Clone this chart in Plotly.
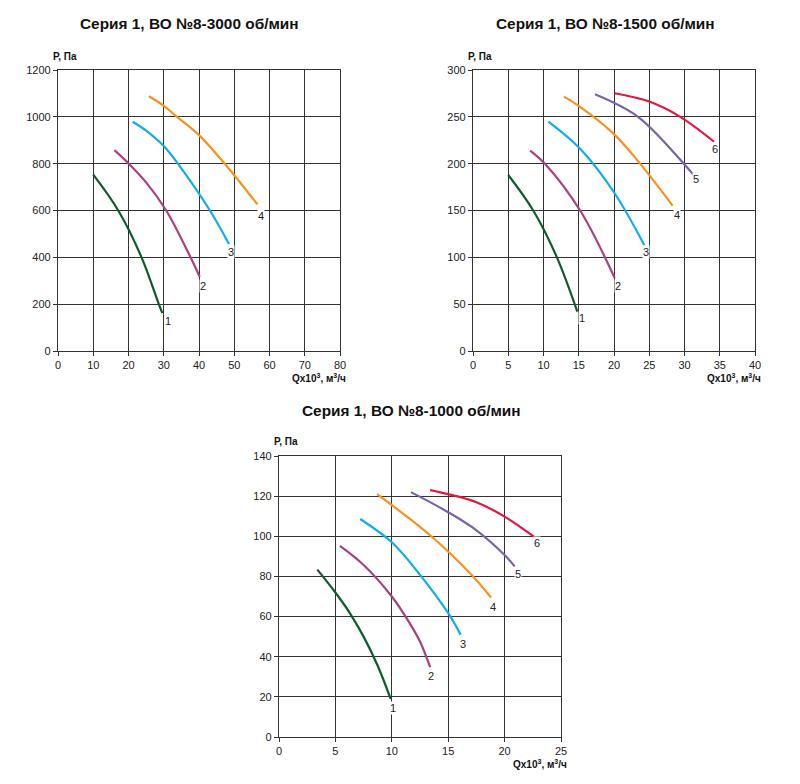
import plotly.graph_objects as go

# цвета кривых 1..6
colors = ["#0f5a2c", "#a8417f", "#12acea", "#f7921e", "#7a62aa", "#e3173e"]

# ВО №8 - 3000 об/мин
q3000 = [
    [10, 17.1, 23.7, 28.6, 29.6],
    [16, 20.1, 25, 30.7, 37.6, 40.2],
    [21.2, 25, 30, 34, 43.1, 48.5],
    [25.8, 30, 33.75, 40, 47.3, 56.6],
]
p3000 = [
    [753, 600, 400, 200, 162],
    [858, 800, 720, 600, 400, 317],
    [979, 941, 875, 800, 600, 457],
    [1088, 1047, 1000, 922, 800, 626],
]
lbl3000 = [(31.2, 130), (41.2, 278), (49, 421), (57.6, 578)]

# ВО №8 - 1500 об/мин
q1500 = [
    [5, 8.55, 11.9, 14.8],
    [8.1, 10.2, 15.2, 20.1],
    [10.7, 15.2, 20, 24.3],
    [12.9, 15.2, 20, 23.7, 28.3],
    [17.3, 23.4, 29.9, 31.4],
    [20.1, 25, 29.4, 34.2],
]
p1500 = [
    [188, 150, 100, 42],
    [214, 200, 150, 78],
    [245, 216, 169.5, 113],
    [271.6, 260.6, 231.5, 200, 155.3],
    [274, 250, 200, 187],
    [275.2, 266.3, 250, 223.4],
]
lbl1500 = [(15.5, 35), (20.6, 69), (24.5, 106), (28.9, 145), (31.7, 184), (34.3, 216)]

# ВО №8 - 1000 об/мин
q1000 = [
    [3.4, 5, 6.25, 7.5, 8.75, 9.9],
    [5.4, 7.5, 10, 11.5, 12.5, 13.4],
    [7.2, 10, 12.5, 15, 16.1],
    [8.7, 13.5, 17.2, 18.8],
    [11.7, 15, 17.5, 20, 20.9],
    [13.4, 15, 17.5, 20, 22.6],
]
p1000 = [
    [83.4, 72, 62, 50, 35.5, 19],
    [95.2, 85.7, 70, 57.5, 47.6, 34.8],
    [108.6, 97, 80.8, 61.7, 51],
    [121, 100, 80, 69.5],
    [122, 112, 103, 90.7, 85],
    [123, 121, 117, 109.8, 99.8],
]
lbl1000 = [(10.1, 14.4), (13.5, 30.5), (16.3, 46.4), (19, 65), (21.2, 81), (22.9, 96.5)]

titles = ["Серия 1, ВО №8-3000 об/мин", "Серия 1, ВО №8-1500 об/мин", "Серия 1, ВО №8-1000 об/мин"]

W, H = 792, 776  # страница браузера добавляет отступ 8px


def px(x):
    return (x - 8) / W


def py(y):
    return 1 - (y - 8) / H


fig = go.Figure()

charts = [
    (q3000, p3000, lbl3000, "x", "y"),
    (q1500, p1500, lbl1500, "x2", "y2"),
    (q1000, p1000, lbl1000, "x3", "y3"),
]

for qs, ps, lbls, xa, ya in charts:
    for i in range(len(qs)):
        fig.add_trace(go.Scatter(x=qs[i], y=ps[i], mode="lines", xaxis=xa, yaxis=ya,
                                 line=dict(color=colors[i], width=2.2, shape="spline", smoothing=1),
                                 showlegend=False, hoverinfo="skip"))
        fig.add_annotation(x=lbls[i][0], y=lbls[i][1], xref=xa, yref=ya, text=str(i + 1),
                           showarrow=False, bgcolor="white", borderpad=0,
                           xanchor="center", yanchor="middle",
                           font=dict(size=11, color="#222"))

grid = "#333333"
tick_font = dict(family="Liberation Sans, Arial", size=11, color="#222")


def axis_style(domain, rng, dtick, anchor):
    return dict(domain=domain, range=rng, dtick=dtick, anchor=anchor, showgrid=True,
                gridcolor=grid, gridwidth=1.2, showline=True, linecolor=grid, linewidth=1.2,
                mirror=True, ticks="outside", ticklen=4, tickcolor=grid, zeroline=False,
                tickfont=tick_font, fixedrange=True, automargin=False)


fig.update_layout(
    width=W, height=H, margin=dict(l=0, r=0, t=0, b=0),
    paper_bgcolor="white", plot_bgcolor="white",
    font=dict(family="Liberation Sans, Arial", color="#222"),
    xaxis=axis_style([px(58), px(340)], [0, 80], 10, "y"),
    yaxis=axis_style([py(351), py(70)], [0, 1200], 200, "x"),
    xaxis2=axis_style([px(473), px(755)], [0, 40], 5, "y2"),
    yaxis2=axis_style([py(351), py(70)], [0, 300], 50, "x2"),
    xaxis3=axis_style([px(279), px(561)], [0, 25], 5, "y3"),
    yaxis3=axis_style([py(737), py(456)], [0, 140], 20, "x3"),
)

# заголовки и подписи осей
title_pos = [(189, 23), (605, 23), (412, 410)]
for t, (tx, ty) in zip(titles, title_pos):
    fig.add_annotation(x=px(tx), y=py(ty), xref="paper", yref="paper", text="<b>" + t + "</b>",
                       showarrow=False, xanchor="center", yanchor="middle",
                       font=dict(size=15.4, color="#111"))

ylab_pos = [(51, 56), (466, 56), (272, 441)]
xlab_pos = [(348, 378), (763, 378), (569, 764)]
for (lx, ly), (rx, ry) in zip(ylab_pos, xlab_pos):
    fig.add_annotation(x=px(lx), y=py(ly), xref="paper", yref="paper", text="<b>Р, Па</b>",
                       showarrow=False, xanchor="left", yanchor="middle",
                       font=dict(size=10, color="#111"))
    fig.add_annotation(x=px(rx), y=py(ry), xref="paper", yref="paper",
                       text="<b>Qx10<sup>3</sup>, м<sup>3</sup>/ч</b>",
                       showarrow=False, xanchor="right", yanchor="middle",
                       font=dict(size=10, color="#111"))

fig.write_html("out.html")
